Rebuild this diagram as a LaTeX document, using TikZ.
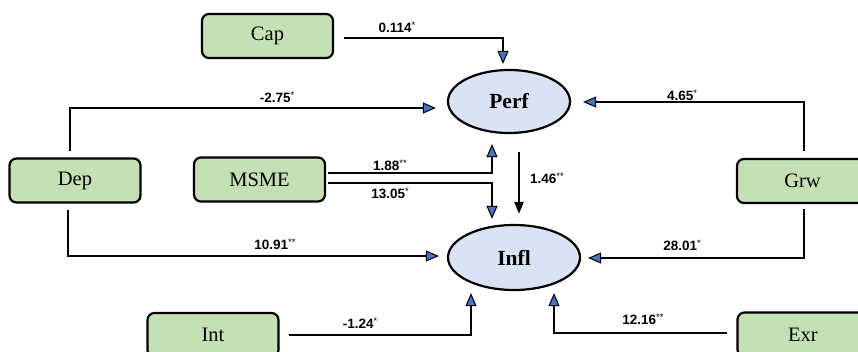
\documentclass[tikz,border=0pt]{standalone}
\usepackage{fontspec}
\setmainfont{Liberation Serif}
\newfontfamily\labelfont{Liberation Sans}
\usetikzlibrary{arrows.meta,shapes.geometric}

\definecolor{boxgreen}{RGB}{197,224,180}
\definecolor{ovalblue}{RGB}{218,227,243}
\definecolor{tipblue}{RGB}{68,114,196}

% coefficient with its significance stars
\newcommand{\coefval}[2]{#1\raisebox{0.55ex}{\mdseries\fontsize{9.5}{9.5}\selectfont #2}}

\tikzset{
  varbox/.style={draw, line width=2.2pt, rounded corners=7pt, fill=boxgreen,
    minimum width=131pt, minimum height=44pt, inner sep=0pt,
    font=\fontsize{20.5}{22}\selectfont},
  latent/.style={ellipse, draw, line width=2.2pt, fill=ovalblue, inner sep=0pt,
    font=\bfseries\fontsize{21.5}{23}\selectfont},
  conn/.style={line width=1.7pt,
    -{Triangle[length=13pt,width=11pt,fill=tipblue,line width=1pt]}},
  direct/.style={line width=2.2pt, -{Triangle[length=12pt,width=9pt]}},
  coef/.style={font=\labelfont\bfseries\fontsize{13.5}{15}\selectfont, inner sep=0pt}
}

\begin{document}
\begin{tikzpicture}[x=1pt, y=-1pt]
\clip (0,0) rectangle (858,351);
\fill[white] (0,0) rectangle (858,351);

% observed variables
\node[varbox] (cap)  at (267.5,36)  {Cap};
\node[varbox] (dep)  at (75,180.5)  {Dep};
\node[varbox] (msme) at (259.5,179.5) {MSME};
\node[varbox] (grw)  at (802.5,181) {Grw};
\node[varbox] (int)  at (213,335)   {Int};
\node[varbox] (exr)  at (803,334.5) {Exr};

% latent outcomes
\node[latent, minimum width=122pt, minimum height=63pt] (perf) at (509,101.5) {Perf};
\node[latent, minimum width=132pt, minimum height=65pt] (infl) at (514,257.5) {Infl};

% paths
\draw[conn] ([xshift=10pt,yshift=-2pt]cap.east) -| ([xshift=-6pt,yshift=5pt]perf.north);
\draw[conn, shorten >=11pt] ([xshift=-5pt,yshift=6pt]dep.north) |- ([yshift=-6.5pt]perf.west);
\draw[conn, shorten >=8pt] ([xshift=-7pt,yshift=-6pt]dep.south) |- ([yshift=1.5pt]infl.west);
\draw[conn] ([xshift=2pt,yshift=6.5pt]msme.east) -| ([xshift=-17pt,yshift=-10pt]perf.south);
\draw[conn] ([xshift=2pt,yshift=-3.5pt]msme.east) -| ([xshift=-22pt,yshift=5pt]infl.north);
\draw[direct] ([xshift=10pt,yshift=-18pt]perf.south) -- ([xshift=5pt,yshift=10pt]infl.north);
\draw[conn, shorten >=12pt] ([xshift=1.5pt,yshift=7pt]grw.north) |- ([yshift=-0.5pt]perf.east);
\draw[conn, shorten >=7pt] ([xshift=1.5pt,yshift=-5pt]grw.south) |- ([yshift=-0.5pt]infl.east);
\draw[conn] ([xshift=9pt]int.east) -| ([xshift=-43pt,yshift=-2pt]infl.south);
\draw[conn] ([xshift=-9pt,yshift=1.5pt]exr.west) -| ([xshift=40pt,yshift=-2pt]infl.south);

% coefficients
\node[coef] (c1)  at (397,27)  {\coefval{0.114}{*}};
\node[coef] (c2)  at (277,97)  {\coefval{-2.75}{*}};
\node[coef] (c3)  at (682,95)  {\coefval{4.65}{*}};
\node[coef] (c4)  at (390,165) {\coefval{1.88}{**}};
\node[coef] (c5)  at (390,193) {\coefval{13.05}{*}};
\node[coef] (c6)  at (547,178) {\coefval{1.46}{**}};
\node[coef] (c7)  at (275,244) {\coefval{10.91}{**}};
\node[coef] (c8)  at (682,245) {\coefval{28.01}{*}};
\node[coef] (c9)  at (360,323) {\coefval{-1.24}{*}};
\node[coef] (c10) at (643,319) {\coefval{12.16}{**}};
\end{tikzpicture}
\end{document}
